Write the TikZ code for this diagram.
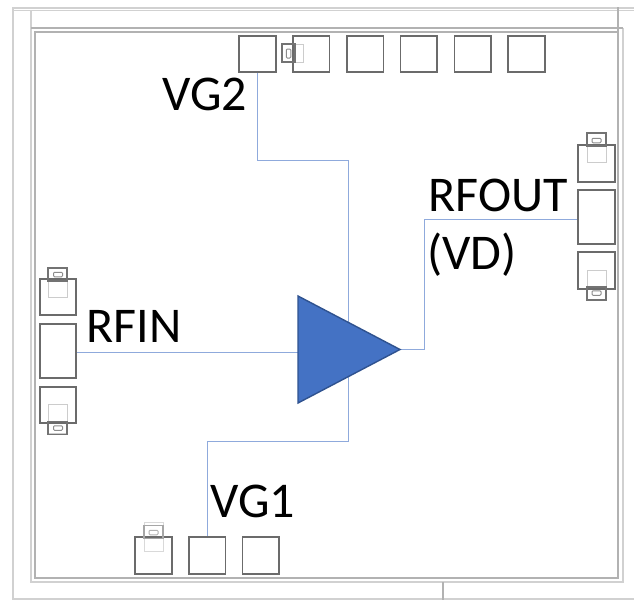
\documentclass[tikz,border=0pt]{standalone}
\usepackage{fontspec}
\setmainfont{Carlito}
\usetikzlibrary{shapes.geometric,backgrounds}

\begin{document}
\begin{tikzpicture}[x=1pt, y=-1pt,
    pad/.style={rectangle, draw=black!58, line width=1.6pt, inner sep=0pt, outer sep=0pt, minimum width=36.5pt, minimum height=36.5pt},
    widepad/.style={pad, minimum height=54pt},
    bump/.style={rectangle, draw=black!55, line width=1.3pt, inner sep=0pt, outer sep=0pt, minimum width=19pt, minimum height=13pt},
    bumpcore/.style={rectangle, rounded corners=1pt, draw=black!45, line width=1pt, inner sep=0pt, outer sep=0pt, minimum width=9pt, minimum height=4.5pt},
    bumpshade/.style={rectangle, draw=black!20, line width=1pt, inner sep=0pt, outer sep=0pt, minimum width=19pt, minimum height=29pt},
    wire/.style={color={rgb,255:red,143;green,170;blue,220}, line width=1pt},
    frameline/.style={draw=black!18, line width=1.2pt},
    framedark/.style={draw=black!30, line width=1.2pt},
    amp/.style={isosceles triangle, isosceles triangle stretches, shape border rotate=0, fill={rgb,255:red,68;green,114;blue,196}, draw={rgb,255:red,47;green,82;blue,143}, line width=1.4pt, inner sep=0pt, outer sep=0pt, minimum width=107pt, minimum height=102pt},
    pinlabel/.style={font=\fontsize{50}{50}\selectfont, inner sep=0pt}]
  \useasboundingbox (0,0) rectangle (634,600);
  % package outline
  \draw[frameline] (634,8) -- (13,8) -- (13,600);
  \draw[frameline] (13,599) -- (634,599);
  \draw[frameline] (13,10.5) -- (634,10.5);
  \draw[frameline] (31,10.5) -- (31,582) -- (623,582) -- (623,28);
  \draw[framedark] (31,28) -- (623,28);
  \draw[framedark] (618,7) -- (618,578) -- (35,578) -- (35,32) -- (618,32);
  \draw[framedark] (443,582) -- (443,600);

  % top pads
  \node[pad] (vgtwo) at (257.5,54) {};
  \node[pad, right of=vgtwo, node distance=53.8pt] (topb) {};
  \node[pad, right of=topb, node distance=53.8pt] (topc) {};
  \node[pad, right of=topc, node distance=53.8pt] (topd) {};
  \node[pad, right of=topd, node distance=53.8pt] (tope) {};
  \node[pad, right of=tope, node distance=53.8pt] (topf) {};
  \node[bumpshade, minimum width=21pt, minimum height=18pt] at (292.5,53) {};
  \node[bump, minimum width=13pt, minimum height=18pt] (topbump) at (288.5,53) {};
  \node[bumpcore, minimum width=4.5pt, minimum height=9pt] at (288.5,53.5) {};

  % left pads
  \node[widepad] (rfin) at (58,351) {};
  \node[pad, above of=rfin, node distance=54pt] (lefta) {};
  \node[pad, below of=rfin, node distance=54pt] (leftb) {};
  \node[bumpshade] at (58,283) {};
  \node[bump] at (57.5,274.5) {};
  \node[bumpcore] at (58,274.5) {};
  \node[bumpshade] at (58,419) {};
  \node[bump] at (57.5,428) {};
  \node[bumpcore] at (58,428) {};

  % right pads
  \node[widepad] (rfout) at (596.5,217) {};
  \node[pad, above of=rfout, node distance=53.5pt] (righta) {};
  \node[pad, below of=rfout, node distance=53.5pt] (rightb) {};
  \node[bumpshade] at (596.5,148) {};
  \node[bump] at (596.5,139.5) {};
  \node[bumpcore] at (596.5,140.5) {};
  \node[bumpshade] at (596.5,285) {};
  \node[bump] at (596.5,293.5) {};
  \node[bumpcore] at (596.5,293) {};

  % bottom pads
  \node[pad] (botl) at (153.5,555.5) {};
  \node[pad, right of=botl, node distance=53.7pt] (vgone) {};
  \node[pad, right of=vgone, node distance=53.7pt] (botr) {};
  \node[bumpshade, draw=black!15] at (153.5,536.5) {};
  \node[bump, draw=black!35] at (153.5,532) {};
  \node[bumpcore, draw=black!30] at (153.5,532.5) {};

  \node[amp, anchor=apex] (triangle) at (400,349.5) {};
  \node[coordinate] (vgtwobend) at (348,160) {};
  \node[coordinate] (vgonebend) at (348,441) {};
  \node[coordinate] (rfoutbend) at (424,219) {};
  \node[coordinate] (rfintap) at (77,352) {};

  \begin{scope}[on background layer]
    \fill[white] (0,0) rectangle (634,600);
    \draw[wire] (vgtwo) |- (vgtwobend) -- (vgtwobend |- triangle.center);
    \draw[wire] (vgone) |- (vgonebend) -- (vgonebend |- triangle.center);
    \draw[wire] (rfintap) -- (rfintap -| triangle.center);
    \draw[wire] (triangle.apex) -| (rfoutbend) -- (rfoutbend -| rfout.west);
  \end{scope}

  \node[pinlabel] (vgtwolabel) at (205,94) {VG2};
  \node[pinlabel] (rfinlabel) at (134,326) {RFIN};
  \node[pinlabel] (rfoutlabel) at (498,195) {RFOUT};
  \node[pinlabel] (vdlabel) at (472,255) {(VD)};
  \node[pinlabel] (vgonelabel) at (253,501) {VG1};
\end{tikzpicture}
\end{document}
